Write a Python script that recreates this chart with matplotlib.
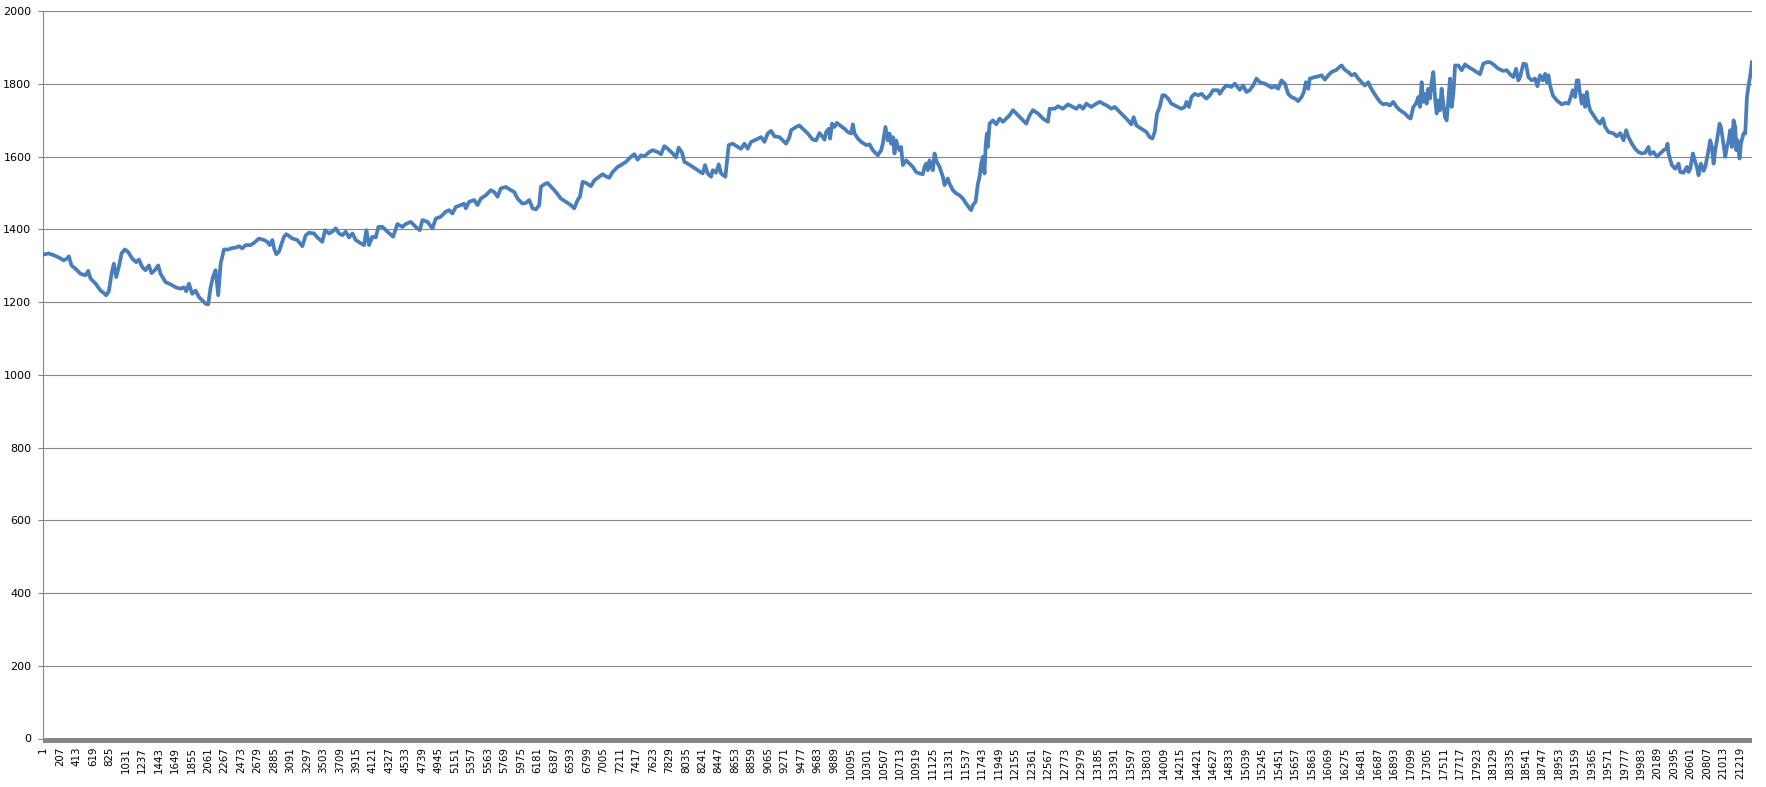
import matplotlib.pyplot as plt
from matplotlib.patches import Rectangle

# number of categories on the x axis (1 .. N_CATS)
N_CATS = 21368
XTICK_STEP = 206

# (category, value) pairs, left to right
seg1 = [(1, 1331), (69, 1334), (132, 1329), (194, 1323), (257, 1315), (298, 1320), (320, 1326),
        (353, 1301), (403, 1292), (466, 1278), (529, 1274), (562, 1286), (591, 1265), (654, 1251),
        (716, 1232), (758, 1225), (787, 1219), (820, 1230), (854, 1278), (883, 1306), (912, 1269),
        (945, 1297), (979, 1334), (1020, 1345), (1062, 1338), (1112, 1320), (1162, 1310),
        (1196, 1317), (1237, 1297), (1279, 1288), (1321, 1301), (1354, 1280), (1396, 1288),
        (1437, 1301), (1467, 1278), (1530, 1255), (1592, 1249), (1655, 1241), (1717, 1237),
        (1759, 1241), (1788, 1230), (1822, 1251), (1863, 1223), (1905, 1232), (1947, 1214),
        (1988, 1205), (2030, 1196), (2063, 1194), (2093, 1241), (2122, 1269), (2155, 1288),
        (2188, 1219), (2218, 1306), (2260, 1345), (2322, 1345), (2343, 1348), (2406, 1350),
        (2447, 1354), (2489, 1348), (2531, 1357), (2593, 1357), (2635, 1363), (2698, 1375),
        (2760, 1371), (2802, 1366), (2832, 1357), (2865, 1371), (2886, 1348), (2915, 1332),
        (2948, 1339), (2982, 1362), (3011, 1380), (3040, 1387), (3073, 1382)]

seg2 = [(3115, 1375), (3177, 1371), (3240, 1354), (3282, 1384), (3323, 1391), (3386, 1389),
        (3428, 1378), (3490, 1366), (3524, 1398), (3574, 1389), (3615, 1394), (3657, 1403),
        (3699, 1389), (3741, 1384), (3782, 1394), (3824, 1378), (3866, 1389), (3907, 1371),
        (3970, 1362), (4012, 1357), (4041, 1398), (4074, 1357), (4116, 1380), (4158, 1378),
        (4191, 1407), (4241, 1407), (4304, 1394), (4375, 1380), (4429, 1415), (4491, 1407),
        (4533, 1415), (4596, 1421), (4658, 1407), (4709, 1398), (4742, 1426), (4804, 1421),
        (4867, 1403), (4909, 1430), (4971, 1435), (5034, 1449), (5076, 1453), (5117, 1444),
        (5159, 1462), (5222, 1467), (5263, 1471), (5284, 1458), (5326, 1476), (5389, 1481),
        (5430, 1467), (5472, 1485), (5534, 1494), (5597, 1508), (5639, 1503), (5681, 1490),
        (5722, 1513), (5785, 1517), (5847, 1508), (5889, 1503), (5931, 1485), (5993, 1471),
        (6035, 1473), (6077, 1481), (6119, 1458), (6160, 1455), (6202, 1467), (6223, 1517),
        (6265, 1524), (6306, 1528), (6369, 1513), (6411, 1503), (6473, 1485), (6536, 1476),
        (6598, 1467), (6640, 1458), (6682, 1481), (6711, 1490)]

seg3 = [(6745, 1531), (6786, 1528), (6849, 1519), (6891, 1535), (6953, 1545), (6995, 1552),
        (7037, 1546), (7078, 1542), (7120, 1558), (7183, 1572), (7225, 1577), (7287, 1586),
        (7350, 1600), (7391, 1607), (7433, 1592), (7475, 1604), (7517, 1601), (7579, 1613),
        (7621, 1618), (7683, 1613), (7725, 1607), (7767, 1629), (7809, 1622), (7871, 1609),
        (7913, 1598), (7946, 1625), (7988, 1611), (8017, 1586), (8059, 1581), (8121, 1572),
        (8184, 1563), (8247, 1554), (8276, 1577), (8309, 1554), (8351, 1545), (8372, 1563),
        (8414, 1556), (8447, 1579), (8476, 1554), (8505, 1549), (8530, 1545), (8547, 1581),
        (8572, 1632), (8622, 1636), (8685, 1627), (8726, 1622), (8768, 1636), (8810, 1622),
        (8852, 1641), (8914, 1647), (8977, 1654), (9019, 1641), (9060, 1664), (9102, 1671),
        (9144, 1656), (9206, 1654), (9248, 1645), (9290, 1636), (9331, 1654), (9352, 1673),
        (9415, 1682), (9456, 1686), (9498, 1677), (9561, 1664), (9623, 1647), (9665, 1645),
        (9707, 1665), (9749, 1654), (9770, 1647), (9790, 1668), (9824, 1677), (9840, 1650),
        (9865, 1691), (9895, 1682), (9924, 1693), (9978, 1684), (10020, 1677), (10061, 1668),
        (10103, 1664), (10124, 1689), (10145, 1664), (10187, 1650), (10228, 1641), (10291, 1632),
        (10333, 1634), (10374, 1618)]

seg4 = [(10436, 1604), (10478, 1618), (10499, 1636), (10532, 1682), (10561, 1645), (10582, 1664),
        (10603, 1636), (10624, 1654), (10645, 1609), (10666, 1645), (10687, 1627), (10707, 1618),
        (10728, 1627), (10749, 1577), (10791, 1590), (10833, 1581), (10874, 1572), (10916, 1558),
        (10958, 1554), (11000, 1552), (11020, 1572), (11041, 1581), (11062, 1563), (11083, 1590),
        (11104, 1572), (11125, 1563), (11146, 1609), (11166, 1590), (11208, 1572), (11250, 1545),
        (11271, 1522), (11292, 1531), (11312, 1540), (11333, 1526), (11375, 1508), (11417, 1499),
        (11458, 1494), (11500, 1485), (11542, 1471), (11584, 1458), (11604, 1453), (11625, 1467),
        (11659, 1476), (11688, 1526), (11709, 1545), (11730, 1581), (11750, 1600), (11771, 1554),
        (11784, 1627), (11800, 1664), (11813, 1627), (11834, 1691), (11876, 1700), (11917, 1689),
        (11959, 1705), (12001, 1696), (12043, 1705), (12084, 1714), (12126, 1728), (12168, 1719),
        (12230, 1705), (12293, 1691), (12335, 1714), (12376, 1728), (12439, 1719), (12501, 1705),
        (12564, 1696), (12585, 1732), (12648, 1732), (12689, 1739), (12752, 1732), (12814, 1744),
        (12877, 1737), (12919, 1732), (12960, 1741), (13002, 1732), (13044, 1746), (13106, 1737),
        (13169, 1746), (13211, 1751), (13252, 1746), (13315, 1739), (13357, 1732), (13398, 1737),
        (13440, 1728), (13503, 1714), (13565, 1700), (13607, 1689), (13636, 1709), (13670, 1686),
        (13732, 1677), (13795, 1668), (13836, 1654), (13870, 1650), (13899, 1668), (13928, 1719),
        (13962, 1737), (13995, 1769), (14024, 1769)]

seg5 = [(14066, 1760), (14108, 1746), (14171, 1739), (14233, 1732), (14275, 1737), (14296, 1751),
        (14329, 1737), (14358, 1764), (14400, 1773), (14442, 1769), (14484, 1773), (14525, 1764),
        (14546, 1760), (14588, 1769), (14630, 1783), (14692, 1783), (14713, 1773), (14755, 1787),
        (14796, 1796), (14859, 1792), (14901, 1801), (14963, 1784), (15005, 1796), (15047, 1778),
        (15088, 1783), (15130, 1796), (15172, 1815), (15214, 1805), (15276, 1801), (15318, 1796),
        (15360, 1790), (15401, 1794), (15443, 1787), (15485, 1810), (15527, 1801), (15568, 1773),
        (15610, 1764), (15652, 1760), (15693, 1753), (15735, 1764), (15764, 1778), (15789, 1805),
        (15819, 1787), (15839, 1815), (15902, 1819), (15944, 1821), (15986, 1824), (16027, 1812),
        (16069, 1824), (16111, 1833), (16173, 1839), (16215, 1848), (16236, 1851), (16277, 1839),
        (16319, 1833), (16361, 1824), (16403, 1828), (16444, 1815), (16486, 1805), (16528, 1796),
        (16570, 1805), (16590, 1794), (16632, 1778), (16674, 1764), (16716, 1751), (16757, 1744),
        (16799, 1746), (16841, 1741), (16882, 1751), (16924, 1737), (16966, 1728), (17028, 1719),
        (17070, 1709), (17099, 1705), (17133, 1737), (17166, 1746), (17195, 1764), (17216, 1737),
        (17237, 1805), (17258, 1751), (17279, 1773), (17300, 1746), (17320, 1787), (17341, 1760),
        (17362, 1805), (17383, 1833), (17404, 1764), (17425, 1719), (17446, 1755), (17466, 1728),
        (17487, 1787), (17508, 1746), (17529, 1709), (17550, 1700), (17571, 1755)]

seg6 = [(17592, 1815), (17613, 1737), (17634, 1773), (17655, 1851), (17696, 1851), (17738, 1838),
        (17780, 1854), (17821, 1847), (17884, 1839), (17926, 1833), (17967, 1827), (18009, 1856),
        (18051, 1860), (18093, 1860), (18134, 1854), (18197, 1842), (18260, 1836), (18301, 1838),
        (18343, 1827), (18385, 1819), (18418, 1842), (18447, 1810), (18468, 1819), (18510, 1856),
        (18543, 1854), (18572, 1819), (18614, 1810), (18656, 1815), (18685, 1794), (18718, 1824),
        (18752, 1810), (18781, 1828), (18802, 1805), (18823, 1824), (18844, 1796), (18877, 1769),
        (18927, 1755), (18990, 1744), (19031, 1748), (19073, 1746), (19102, 1764), (19127, 1783),
        (19157, 1764), (19177, 1810), (19198, 1810), (19211, 1783), (19240, 1746), (19261, 1769),
        (19282, 1737), (19303, 1778), (19323, 1746), (19344, 1728), (19386, 1714), (19428, 1700),
        (19469, 1691), (19503, 1705), (19532, 1682), (19574, 1668), (19636, 1664), (19678, 1656),
        (19720, 1665), (19761, 1645), (19795, 1673), (19824, 1654), (19866, 1636), (19907, 1622),
        (19949, 1613), (19991, 1609), (20033, 1611), (20074, 1627), (20095, 1607), (20137, 1613),
        (20179, 1600), (20220, 1609), (20262, 1618), (20295, 1622), (20312, 1636), (20325, 1609),
        (20366, 1577), (20408, 1567), (20450, 1581), (20471, 1558), (20512, 1556), (20554, 1572),
        (20575, 1558), (20596, 1567), (20629, 1609), (20658, 1586), (20679, 1572), (20700, 1549),
        (20729, 1581), (20763, 1561), (20784, 1572), (20813, 1604), (20846, 1645), (20867, 1627),
        (20888, 1581), (20909, 1618), (20930, 1645), (20963, 1691), (20980, 1682), (21005, 1645),
        (21034, 1600), (21055, 1627), (21076, 1645), (21096, 1673), (21117, 1627), (21138, 1700),
        (21159, 1682), (21172, 1618), (21188, 1645), (21213, 1595), (21230, 1636), (21263, 1664),
        (21284, 1664), (21305, 1764), (21326, 1796), (21347, 1824), (21368, 1860)]

y_ticks = list(range(0, 2001, 200))
x_ticks = list(range(1, N_CATS + 1, XTICK_STEP))


def main():
    pts = seg1 + seg2 + seg3 + seg4 + seg5 + seg6
    xs = [p[0] for p in pts]
    ys = [p[1] for p in pts]

    W, H = 1766, 787
    fig = plt.figure(figsize=(W / 100, H / 100), dpi=100)
    left, right, top, bottom = 43.3, 1752, 11.3, 738.5
    ax = fig.add_axes([left / W, (H - bottom) / H, (right - left) / W, (bottom - top) / H])

    grey = '#868686'

    # the series
    ax.plot(xs, ys, color='#4A7EBB', lw=2.7, solid_joinstyle='round', zorder=3)

    ax.set_xlim(0.5, N_CATS + 0.5)
    ax.set_ylim(0, 2000)

    # y axis + gridlines
    ax.set_yticks(y_ticks)
    ax.set_yticklabels([str(v) for v in y_ticks])
    ax.yaxis.grid(True, color=grey, lw=0.8)
    ax.set_axisbelow(True)
    ax.tick_params(axis='y', direction='out', length=3.6, width=0.8, color=grey,
                   pad=5, labelsize=8)

    # x axis: category labels every 206 points
    ax.set_xticks(x_ticks)
    ax.set_xticklabels([str(v) for v in x_ticks], rotation=90, va='top', ha='center')
    ax.tick_params(axis='x', length=0, pad=6, labelsize=7.4)

    for s in ['top', 'right', 'bottom']:
        ax.spines[s].set_visible(False)
    ax.spines['left'].set_color(grey)
    ax.spines['left'].set_linewidth(0.8)

    # dense category ticks render as a solid grey band under the axis
    band = 4.5 / (bottom - top)
    ax.add_patch(Rectangle((0, -band), 1, band + 0.001, transform=ax.transAxes,
                           color=grey, clip_on=False, lw=0, zorder=4))

    fig.savefig('out.png', dpi=100)


if __name__ == "__main__":
    main()
